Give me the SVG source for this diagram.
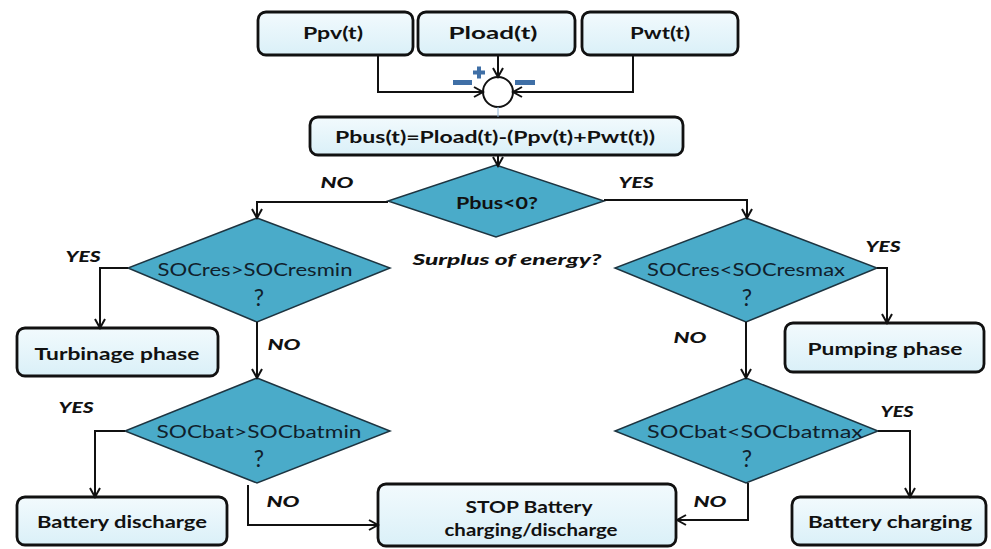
<svg xmlns="http://www.w3.org/2000/svg" width="991" height="549" viewBox="0 0 991 549">
<style>
.box{fill:url(#bg);stroke:#111;stroke-width:2.8}
.dia{fill:#4aabc9;stroke:#1d3440;stroke-width:1.5}
.bt{font-family:Lato,"Liberation Sans",sans-serif;font-weight:bold;font-size:17px;fill:#111;text-anchor:middle}
.dt{font-family:Lato,"Liberation Sans",sans-serif;font-size:18px;fill:#10202c;text-anchor:middle}
.q{font-family:Lato,"Liberation Sans",sans-serif;font-size:23px;fill:#10202c;text-anchor:middle}
.lb{font-family:Lato,"Liberation Sans",sans-serif;font-weight:900;font-style:italic;font-size:15.5px;fill:#111;text-anchor:middle}
.ln{fill:none;stroke:#111;stroke-width:2}
.sign{fill:#3f6fa6}
</style>
<defs>
<linearGradient id="bg" x1="0" y1="0" x2="0" y2="1">
<stop offset="0" stop-color="#f2fafd"/>
<stop offset="1" stop-color="#daf0f8"/>
</linearGradient>
<marker id="ar" markerWidth="14" markerHeight="14" refX="12" refY="7" orient="auto" markerUnits="userSpaceOnUse">
<path d="M3,2 L12,7 L3,12" fill="none" stroke="#111" stroke-width="2"/>
</marker>
</defs>
<g id="ppv"><rect class="box" x="258" y="12" width="155" height="43" rx="8"/><text class="bt" x="333" y="39" textLength="60" lengthAdjust="spacingAndGlyphs">Ppv(t)</text></g>
<g id="pload"><rect class="box" x="418" y="12" width="157" height="43" rx="8"/><text class="bt" x="493" y="39" textLength="89" lengthAdjust="spacingAndGlyphs">Pload(t)</text></g>
<g id="pwt"><rect class="box" x="582" y="12" width="156" height="43" rx="8"/><text class="bt" x="660" y="39" textLength="60" lengthAdjust="spacingAndGlyphs">Pwt(t)</text></g>
<g id="sum"><circle cx="498" cy="92" r="15" fill="#fff" stroke="#111" stroke-width="2"/>
<rect class="sign" x="473" y="70.5" width="12" height="4"/><rect class="sign" x="477" y="66.5" width="4" height="12"/>
<rect class="sign" x="453" y="80" width="19" height="5"/><rect class="sign" x="515" y="80" width="20" height="5"/></g>
<g id="pbus"><rect class="box" x="310" y="117" width="373" height="38" rx="8"/><text class="bt" x="495" y="143" textLength="320" lengthAdjust="spacingAndGlyphs">Pbus(t)=Pload(t)-(Ppv(t)+Pwt(t))</text></g>
<g id="d1"><polygon class="dia" points="496,165 604,201 496,237 388,201"/><text class="bt" x="497" y="209" textLength="82" lengthAdjust="spacingAndGlyphs">Pbus&lt;0?</text></g>
<g id="d2"><polygon class="dia" points="257,218 390,268 257,322 128,268"/><text class="dt" x="255" y="276" textLength="195" lengthAdjust="spacingAndGlyphs">SOCres&gt;SOCresmin</text><text class="q" x="259" y="306">?</text></g>
<g id="d3"><polygon class="dia" points="746,218 877,268 746,322 615,268"/><text class="dt" x="746" y="276" textLength="198" lengthAdjust="spacingAndGlyphs">SOCres&lt;SOCresmax</text><text class="q" x="747" y="306">?</text></g>
<g id="d4"><polygon class="dia" points="257,378 390,431 257,483 125,431"/><text class="dt" x="259" y="438" textLength="205" lengthAdjust="spacingAndGlyphs">SOCbat&gt;SOCbatmin</text><text class="q" x="259" y="467">?</text></g>
<g id="d5"><polygon class="dia" points="746,378 878,431 746,483 615,431"/><text class="dt" x="755" y="438" textLength="216" lengthAdjust="spacingAndGlyphs">SOCbat&lt;SOCbatmax</text><text class="q" x="747" y="467">?</text></g>
<g id="turb"><rect class="box" x="17" y="328" width="201" height="48" rx="8"/><text class="bt" x="117" y="360" textLength="165" lengthAdjust="spacingAndGlyphs">Turbinage phase</text></g>
<g id="pump"><rect class="box" x="785" y="323" width="199" height="49" rx="8"/><text class="bt" x="885" y="355" textLength="155" lengthAdjust="spacingAndGlyphs">Pumping phase</text></g>
<g id="bdis"><rect class="box" x="17" y="497" width="210" height="48" rx="8"/><text class="bt" x="122" y="528" textLength="170" lengthAdjust="spacingAndGlyphs">Battery discharge</text></g>
<g id="bch"><rect class="box" x="792" y="497" width="194" height="48" rx="8"/><text class="bt" x="890" y="528" textLength="164" lengthAdjust="spacingAndGlyphs">Battery charging</text></g>
<g id="stop"><rect class="box" x="378" y="484" width="298" height="62" rx="8"/><text class="bt" x="529" y="513" textLength="127" lengthAdjust="spacingAndGlyphs">STOP Battery</text><text class="bt" x="531" y="536" textLength="173" lengthAdjust="spacingAndGlyphs">charging/discharge</text></g>
<g id="connectors">
<polyline class="ln" points="378,55 378,92 483,92" marker-end="url(#ar)"/>
<polyline class="ln" points="633,55 633,92 513,92" marker-end="url(#ar)"/>
<polyline class="ln" points="498,55 498,77" marker-end="url(#ar)"/>
<line x1="498" y1="107" x2="498" y2="117" stroke="#8fb4d6" stroke-width="1"/>
<polyline class="ln" points="498,155 498,166" marker-end="url(#ar)"/>
<polyline class="ln" points="388,202 257,202 257,218" marker-end="url(#ar)"/>
<polyline class="ln" points="604,200 747,200 747,218" marker-end="url(#ar)"/>
<polyline class="ln" points="128,268 100,268 100,328" marker-end="url(#ar)"/>
<polyline class="ln" points="257,322 257,378" marker-end="url(#ar)"/>
<polyline class="ln" points="877,268 887,268 887,323" marker-end="url(#ar)"/>
<polyline class="ln" points="746,322 746,378" marker-end="url(#ar)"/>
<polyline class="ln" points="125,431 95,431 95,497" marker-end="url(#ar)"/>
<polyline class="ln" points="248,485 248,525 378,525" marker-end="url(#ar)"/>
<polyline class="ln" points="878,431 910,431 910,497" marker-end="url(#ar)"/>
<polyline class="ln" points="748,483 748,520 677,520" marker-end="url(#ar)"/>
</g>
<g id="labels">
<text class="lb" x="337" y="188" textLength="33" lengthAdjust="spacingAndGlyphs">NO</text>
<text class="lb" x="636" y="188" textLength="35" lengthAdjust="spacingAndGlyphs">YES</text>
<text class="lb" x="83" y="262" textLength="35" lengthAdjust="spacingAndGlyphs">YES</text>
<text class="lb" x="507" y="265" textLength="189" lengthAdjust="spacingAndGlyphs">Surplus of energy?</text>
<text class="lb" x="883" y="252" textLength="35" lengthAdjust="spacingAndGlyphs">YES</text>
<text class="lb" x="284" y="350" textLength="33" lengthAdjust="spacingAndGlyphs">NO</text>
<text class="lb" x="690" y="343" textLength="33" lengthAdjust="spacingAndGlyphs">NO</text>
<text class="lb" x="76" y="413" textLength="35" lengthAdjust="spacingAndGlyphs">YES</text>
<text class="lb" x="897" y="417" textLength="33" lengthAdjust="spacingAndGlyphs">YES</text>
<text class="lb" x="283" y="507" textLength="33" lengthAdjust="spacingAndGlyphs">NO</text>
<text class="lb" x="710" y="507" textLength="33" lengthAdjust="spacingAndGlyphs">NO</text>
</g>
</svg>
